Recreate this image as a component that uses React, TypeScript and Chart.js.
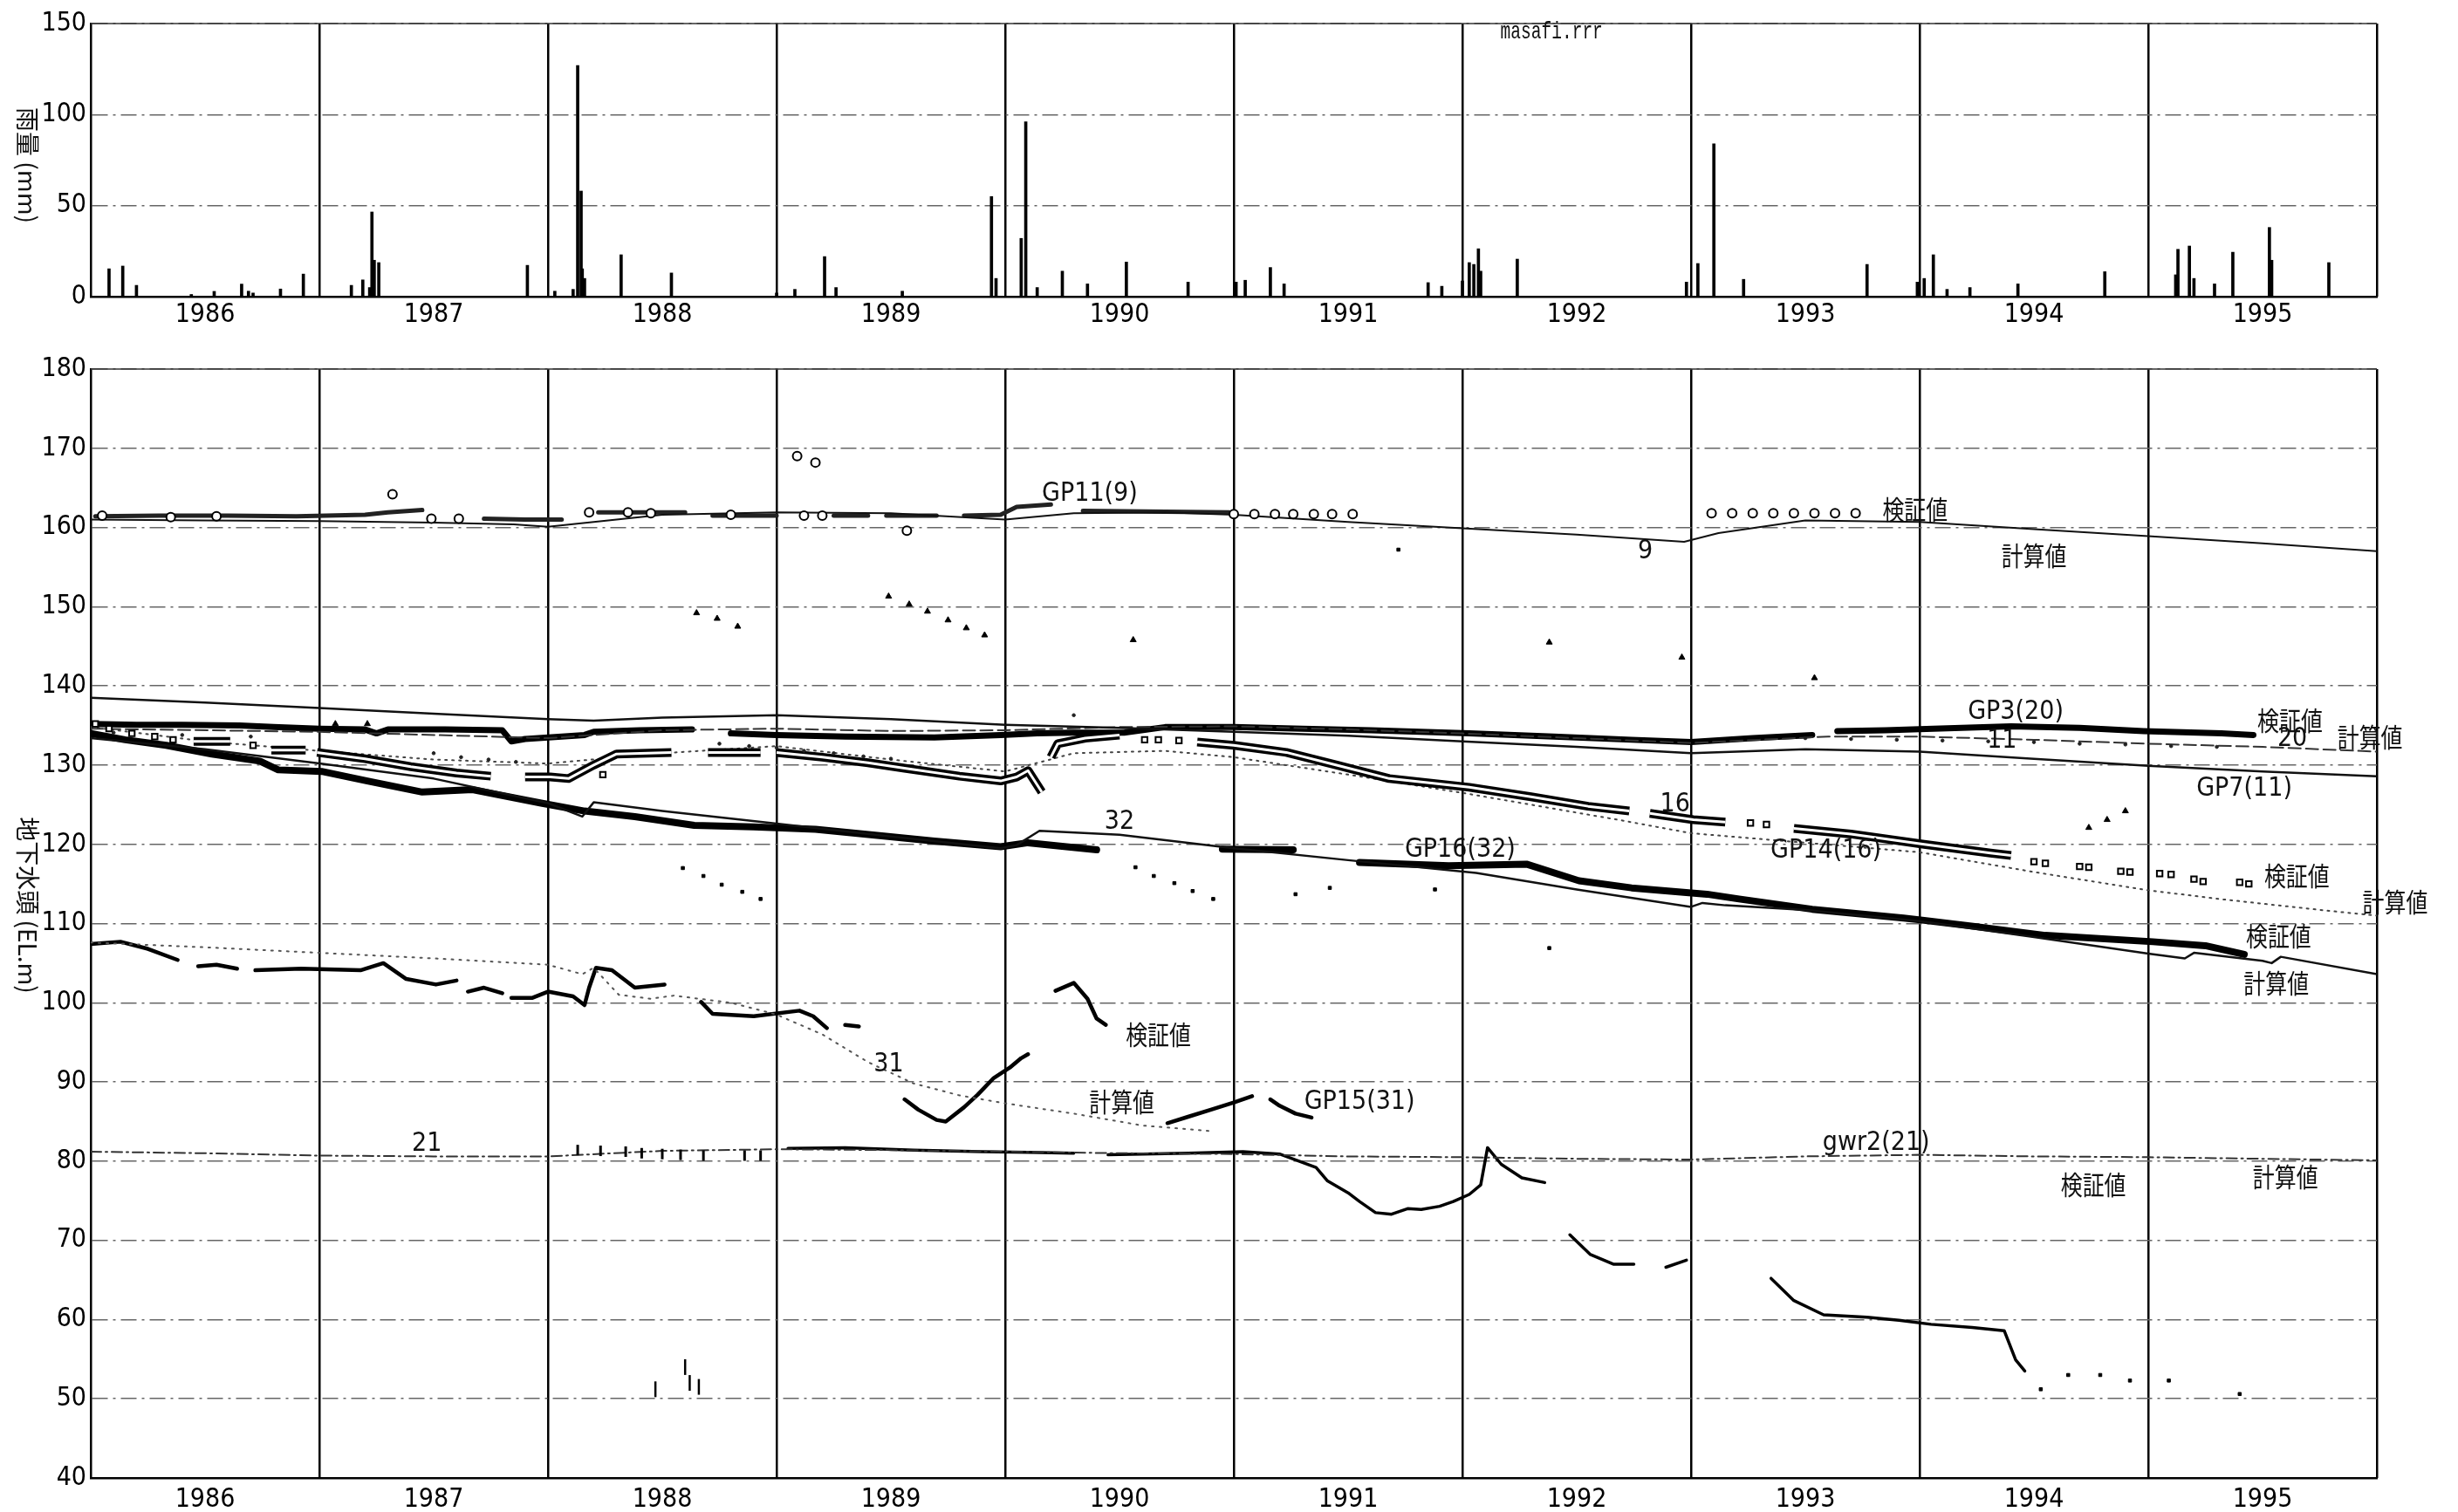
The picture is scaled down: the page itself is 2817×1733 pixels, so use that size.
import React, { useEffect, useRef } from "react";
import { Chart, registerables } from "chart.js";

Chart.register(...registerables);

type P = [number, number] | null;

// ---------- categories / ticks ----------
const yearCategories = [1986, 1987, 1988, 1989, 1990, 1991, 1992, 1993, 1994, 1995];
const yearBoundaries = [1987, 1988, 1989, 1990, 1991, 1992, 1993, 1994, 1995, 1996];
const rainTicks = [0, 50, 100, 150];
const headTicks = [40, 50, 60, 70, 80, 90, 100, 110, 120, 130, 140, 150, 160, 170, 180];

// ---------- rainfall (year, mm) ----------
const rainfall: [number, number][] = [
  [1986.08, 15.3], [1986.14, 16.8], [1986.2, 6.2], [1986.44, 1.2], [1986.54, 2.9], [1986.66, 6.9],
  [1986.69, 3.0], [1986.71, 2.0], [1986.83, 4.2], [1986.93, 12.4],
  [1987.14, 6.2], [1987.19, 9.2], [1987.22, 5.0], [1987.23, 46.5], [1987.24, 20.0], [1987.26, 18.7],
  [1987.91, 17.2],
  [1988.03, 3.0], [1988.11, 4.0], [1988.13, 127.0], [1988.145, 58.0], [1988.15, 15.3], [1988.16, 10.0],
  [1988.32, 23.0], [1988.54, 13.0],
  [1989.0, 2.0], [1989.08, 4.0], [1989.21, 22.0], [1989.26, 5.0], [1989.55, 3.0], [1989.94, 55.0],
  [1989.96, 10.0],
  [1990.07, 32.0], [1990.09, 96.0], [1990.14, 5.0], [1990.25, 14.0], [1990.36, 7.0], [1990.53, 19.0],
  [1990.8, 8.0],
  [1991.01, 8.0], [1991.05, 9.0], [1991.16, 16.0], [1991.22, 7.0], [1991.85, 7.7], [1991.91, 5.7],
  [1992.0, 8.6], [1992.03, 18.7], [1992.05, 17.7], [1992.07, 26.3], [1992.08, 14.0], [1992.24, 20.6],
  [1992.98, 8.0],
  [1993.03, 18.2], [1993.1, 84.0], [1993.23, 9.5], [1993.77, 17.7], [1993.99, 8.0],
  [1994.02, 10.0], [1994.06, 23.0], [1994.12, 4.0], [1994.22, 5.0], [1994.43, 7.0], [1994.81, 13.7],
  [1995.12, 12.0], [1995.13, 26.0], [1995.18, 27.8], [1995.2, 10.0], [1995.29, 7.0], [1995.37, 24.4],
  [1995.53, 38.0], [1995.54, 20.0], [1995.79, 18.7],
];

// ---------- groundwater heads (year, EL.m); null = gap ----------
const gp11Computed: P[] = [
  [1986.0, 161.0], [1986.5, 160.9], [1987.0, 160.8], [1987.5, 160.6], [1987.85, 160.4], [1988.0, 160.1],
  [1988.1, 160.4], [1988.5, 161.6], [1989.0, 161.9], [1989.5, 161.8], [1990.0, 161.0], [1990.3, 161.8],
  [1990.7, 161.9], [1991.0, 161.6], [1991.5, 160.7], [1992.0, 159.9], [1992.5, 159.1], [1992.97, 158.2],
  [1993.12, 159.3], [1993.5, 160.9], [1994.0, 160.7], [1994.5, 159.8], [1995.0, 158.9], [1995.5, 158.0],
  [1996.0, 157.0],
];
const gp11Band: P[] = [
  [1986.02, 161.4], [1986.3, 161.5], [1986.6, 161.5], [1986.9, 161.4], [1987.2, 161.6], [1987.3, 161.9],
  [1987.45, 162.2], null,
  [1987.72, 161.1], [1987.9, 161.0], [1988.06, 161.0], null,
  [1988.22, 161.9], [1988.6, 161.9], null,
  [1988.72, 161.5], [1989.0, 161.5], null,
  [1989.25, 161.5], [1989.4, 161.5], null,
  [1989.48, 161.5], [1989.7, 161.5], null,
  [1989.82, 161.5], [1989.98, 161.6], [1990.05, 162.6], [1990.2, 162.9], null,
  [1990.34, 162.1], [1990.7, 162.0], [1990.98, 161.9],
];
const gp11Circles: P[] = [
  [1986.05, 161.5], [1986.35, 161.3], [1986.55, 161.4], [1987.32, 164.2], [1987.49, 161.1], [1987.61, 161.1],
  [1988.18, 161.9], [1988.35, 161.9], [1988.45, 161.8], [1988.8, 161.6], [1989.09, 169.0], [1989.17, 168.2],
  [1989.12, 161.5], [1989.2, 161.5], [1989.57, 159.6],
  [1991.0, 161.7], [1991.09, 161.7], [1991.18, 161.7], [1991.26, 161.7], [1991.35, 161.7], [1991.43, 161.7],
  [1991.52, 161.7],
  [1993.09, 161.8], [1993.18, 161.8], [1993.27, 161.8], [1993.36, 161.8], [1993.45, 161.8], [1993.54, 161.8],
  [1993.63, 161.8], [1993.72, 161.8],
];

const gp7Computed: P[] = [
  [1986.0, 138.5], [1986.5, 137.9], [1987.0, 137.2], [1987.5, 136.5], [1988.0, 135.8], [1988.2, 135.6],
  [1988.5, 136.0], [1989.0, 136.3], [1989.5, 135.8], [1990.0, 135.1], [1990.5, 134.7], [1991.0, 134.2],
  [1991.5, 133.7], [1992.0, 133.0], [1992.5, 132.3], [1993.0, 131.5], [1993.2, 131.7], [1993.5, 132.0],
  [1994.0, 131.7], [1994.5, 130.8], [1995.0, 129.9], [1995.5, 129.2], [1996.0, 128.6],
];
const gp7Observed: P[] = [
  [1986.1, 134.1], [1986.4, 133.8], [1986.7, 133.6], [1987.5, 131.5], [1987.62, 131.0], [1987.74, 130.7],
  [1987.86, 130.4], [1988.75, 132.7], [1988.88, 132.4], [1989.0, 132.2], [1989.12, 131.8], [1989.25, 131.5],
  [1989.38, 131.1], [1989.5, 130.8], [1990.3, 136.3], [1993.5, 133.4], [1993.7, 133.3], [1993.9, 133.2],
  [1994.1, 133.1], [1994.3, 133.0], [1994.5, 132.9], [1994.7, 132.7], [1994.9, 132.6], [1995.1, 132.4],
  [1995.3, 132.3],
];

const gp3Computed: P[] = [
  [1986.0, 134.6], [1987.0, 134.2], [1988.0, 133.4], [1988.5, 134.4], [1989.0, 134.6], [1989.5, 134.3],
  [1990.0, 134.4], [1990.5, 134.8], [1991.0, 134.9], [1991.5, 134.5], [1992.0, 134.0], [1992.5, 133.4],
  [1993.0, 132.8], [1993.3, 133.2], [1993.6, 133.6], [1994.0, 133.6], [1994.5, 133.2], [1995.0, 132.7],
  [1995.5, 132.3], [1996.0, 131.7],
];
const gp3Observed: P[] = [
  [1986.0, 135.2], [1986.2, 135.1], [1986.4, 135.1], [1986.65, 135.0], [1986.8, 134.8], [1987.0, 134.6],
  [1987.2, 134.5], [1987.25, 134.0], [1987.3, 134.5], [1987.55, 134.5], [1987.8, 134.4], [1987.84, 133.0],
  [1987.9, 133.3], [1988.06, 133.6], [1988.16, 133.8], [1988.2, 134.2], [1988.4, 134.4], [1988.63, 134.5], null,
  [1988.8, 134.0], [1989.0, 133.8], [1989.3, 133.6], [1989.69, 133.5], [1989.98, 133.8], [1990.14, 134.0],
  [1990.3, 134.1], [1990.52, 134.1], [1990.7, 134.8], [1991.0, 134.8], [1991.3, 134.6], [1991.6, 134.4],
  [1992.03, 134.0], [1992.4, 133.6], [1992.74, 133.2], [1993.0, 132.9], [1993.27, 133.4], [1993.53, 133.8], null,
  [1993.64, 134.3], [1993.85, 134.4], [1994.06, 134.6], [1994.4, 134.9], [1994.7, 134.7], [1994.98, 134.3],
  [1995.32, 134.0], [1995.46, 133.8],
];

const gp14Computed: P[] = [
  [1986.0, 134.8], [1986.5, 133.0], [1987.0, 131.8], [1987.5, 130.7], [1988.0, 130.2], [1988.5, 131.5],
  [1989.0, 132.4], [1989.5, 130.7], [1990.0, 129.2], [1990.3, 131.5], [1990.7, 131.8], [1991.0, 131.0],
  [1991.5, 128.8], [1992.0, 126.5], [1992.3, 125.0], [1992.7, 123.0], [1993.0, 121.4], [1993.5, 120.2],
  [1994.0, 119.0], [1994.5, 116.5], [1995.0, 114.2], [1995.31, 113.1], [1995.79, 111.6], [1996.0, 111.0],
];
const gp14Band: P[] = [
  [1986.45, 133.0], [1986.61, 133.0], null,
  [1986.79, 131.9], [1986.94, 131.9], null,
  [1986.99, 131.6], [1987.2, 130.8], [1987.4, 129.8], [1987.6, 129.0], [1987.75, 128.6], null,
  [1987.9, 128.5], [1988.01, 128.5], [1988.09, 128.3], [1988.2, 130.0], [1988.3, 131.4], [1988.54, 131.6], null,
  [1988.7, 131.6], [1988.93, 131.6], null,
  [1989.0, 131.6], [1989.2, 131.0], [1989.4, 130.3], [1989.56, 129.6], [1989.8, 128.6], [1989.98, 128.0],
  [1990.05, 128.5], [1990.1, 129.3], [1990.16, 126.6], null,
  [1990.2, 131.0], [1990.23, 132.7], [1990.35, 133.4], [1990.5, 133.8], null,
  [1990.84, 132.9], [1991.0, 132.5], [1991.23, 131.6], [1991.45, 130.0], [1991.68, 128.3], [1992.03, 127.2],
  [1992.3, 126.0], [1992.55, 124.8], [1992.73, 124.2], null,
  [1992.82, 123.9], [1993.01, 123.1], [1993.15, 122.8], null,
  [1993.45, 122.0], [1993.7, 121.3], [1994.02, 120.0], [1994.31, 118.9], [1994.4, 118.6],
];
const gp14Circles: P[] = [
  [1986.02, 135.2], [1986.08, 134.6], [1986.18, 134.0], [1986.28, 133.6], [1986.36, 133.2], [1986.71, 132.5],
  [1988.24, 128.8], [1990.61, 133.2], [1990.67, 133.2], [1990.76, 133.1], [1993.26, 122.7], [1993.33, 122.5],
  [1994.5, 117.8], [1994.55, 117.6], [1994.7, 117.2], [1994.74, 117.1], [1994.88, 116.6], [1994.92, 116.5],
  [1995.05, 116.3], [1995.1, 116.2], [1995.2, 115.6], [1995.24, 115.3], [1995.4, 115.2], [1995.44, 115.0],
];

const gp16Computed: P[] = [
  [1986.0, 133.4], [1986.5, 132.0], [1987.0, 130.2], [1987.5, 128.3], [1988.0, 125.2], [1988.15, 123.5],
  [1988.2, 125.3], [1988.5, 124.2], [1989.0, 122.6], [1989.5, 121.0], [1989.98, 119.5], [1990.05, 119.9],
  [1990.15, 121.7], [1990.5, 121.2], [1991.0, 119.5], [1991.5, 118.0], [1992.06, 116.4], [1992.5, 114.3],
  [1993.0, 112.1], [1993.05, 112.6], [1993.15, 112.3], [1993.5, 111.7], [1994.0, 110.3], [1994.5, 108.3],
  [1995.0, 106.2], [1995.16, 105.6], [1995.2, 106.3], [1995.5, 105.3], [1995.54, 105.0], [1995.58, 105.8],
  [1996.0, 103.6],
];
const gp16Observed: P[] = [
  [1986.0, 134.0], [1986.15, 133.2], [1986.33, 132.5], [1986.53, 131.4], [1986.74, 130.5], [1986.82, 129.4],
  [1987.01, 129.2], [1987.21, 128.0], [1987.45, 126.6], [1987.67, 126.9], [1987.97, 125.2], [1988.16, 124.2],
  [1988.38, 123.5], [1988.64, 122.4], [1988.9, 122.2], [1989.17, 121.9], [1989.45, 121.1], [1989.69, 120.4],
  [1989.98, 119.7], [1990.1, 120.2], [1990.23, 119.8], [1990.4, 119.3], null,
  [1990.95, 119.4], [1991.26, 119.3], null,
  [1991.55, 117.7], [1991.94, 117.3], [1992.28, 117.5], [1992.51, 115.4], [1992.74, 114.5], [1993.07, 113.7],
  [1993.21, 113.1], [1993.53, 111.8], [1993.93, 110.7], [1994.02, 110.4], [1994.25, 109.6], [1994.55, 108.5],
  [1995.02, 107.7], [1995.25, 107.2], [1995.42, 106.1],
];

const gp15Computed: P[] = [
  [1986.0, 107.6], [1986.5, 107.0], [1987.0, 106.3], [1987.5, 105.6], [1988.0, 104.8], [1988.15, 103.6],
  [1988.2, 104.4], [1988.31, 101.0], [1988.45, 100.5], [1988.55, 100.9], [1988.8, 100.0], [1989.0, 98.5],
  [1989.2, 96.0], [1989.4, 92.5], [1989.6, 89.8], [1989.8, 88.3], [1990.0, 87.3], [1990.3, 86.0],
  [1990.6, 84.5], [1990.9, 83.8],
];
const gp15Observed: P[] = [
  [1986.0, 107.4], [1986.13, 107.7], [1986.25, 106.8], [1986.38, 105.4], null,
  [1986.47, 104.6], [1986.55, 104.8], [1986.64, 104.3], null,
  [1986.72, 104.1], [1986.92, 104.3], [1987.18, 104.1], [1987.28, 105.0], [1987.38, 103.0], [1987.51, 102.3],
  [1987.6, 102.8], null,
  [1987.65, 101.4], [1987.72, 101.9], [1987.8, 101.2], null,
  [1987.84, 100.6], [1987.93, 100.6], [1988.0, 101.4], [1988.11, 100.8], [1988.16, 99.7], [1988.18, 101.9],
  [1988.21, 104.4], [1988.28, 104.1], [1988.38, 101.9], [1988.51, 102.3], null,
  [1988.67, 100.1], [1988.72, 98.6], [1988.9, 98.3], [1989.1, 99.0], [1989.16, 98.3], [1989.22, 96.8], null,
  [1989.3, 97.2], [1989.36, 97.0], null,
  [1989.56, 87.8], [1989.62, 86.5], [1989.7, 85.2], [1989.74, 85.0], [1989.82, 86.8], [1989.88, 88.4],
  [1989.95, 90.5], [1990.02, 91.8], [1990.07, 93.0], [1990.1, 93.5], null,
  [1990.22, 101.5], [1990.3, 102.5], [1990.36, 100.5], [1990.4, 98.0], [1990.44, 97.2], null,
  [1990.71, 84.8], [1990.8, 85.6], [1990.9, 86.5], [1991.0, 87.4], [1991.08, 88.2], null,
  [1991.16, 87.8], [1991.2, 87.0], [1991.27, 86.0], [1991.34, 85.5],
];

const gwr2Computed: P[] = [
  [1986.0, 81.2], [1986.5, 81.0], [1987.0, 80.7], [1987.5, 80.6], [1988.0, 80.6], [1988.5, 81.3],
  [1989.0, 81.5], [1989.5, 81.4], [1990.0, 81.2], [1990.5, 81.0], [1991.0, 80.9], [1991.5, 80.6],
  [1992.0, 80.5], [1992.5, 80.3], [1993.0, 80.2], [1993.5, 80.6], [1994.0, 80.8], [1994.5, 80.6],
  [1995.0, 80.5], [1995.5, 80.3], [1996.0, 80.1],
];
const gwr2Marks: P[] = [
  [1988.13, 81.4], [1988.23, 81.3], [1988.34, 81.2], [1988.41, 81.0], [1988.5, 80.9], [1988.58, 80.8],
  [1988.68, 80.7], [1988.86, 80.7], [1988.93, 80.7],
];
const gwr2Observed: P[] = [
  [1989.05, 81.6], [1989.3, 81.7], [1989.6, 81.4], [1989.9, 81.2], [1990.1, 81.1], [1990.3, 81.0], null,
  [1990.45, 80.8], [1990.8, 81.0], [1991.04, 81.2], [1991.2, 80.9], [1991.36, 79.2], [1991.41, 77.5],
  [1991.5, 76.0], [1991.55, 74.9], [1991.62, 73.5], [1991.69, 73.3], [1991.76, 74.0], [1991.82, 73.9],
  [1991.9, 74.3], [1991.96, 74.9], [1992.03, 75.8], [1992.08, 77.0], [1992.11, 81.7], [1992.17, 79.6],
  [1992.26, 77.9], [1992.36, 77.3], null,
  [1992.47, 70.7], [1992.56, 68.2], [1992.66, 67.0], [1992.75, 67.0], null,
  [1992.89, 66.6], [1992.98, 67.5], null,
  [1993.35, 65.2], [1993.45, 62.4], [1993.58, 60.6], [1993.77, 60.3], [1993.91, 59.9], [1994.05, 59.4],
  [1994.23, 59.0], [1994.37, 58.6], [1994.42, 54.9], [1994.46, 53.5],
];
const gwr2Dots: P[] = [
  [1994.53, 51.2], [1994.65, 53.0], [1994.79, 53.0], [1994.92, 52.3], [1995.09, 52.3], [1995.4, 50.6],
];
const lowTicks: P[] = [[1988.47, 51.2], [1988.6, 54.0], [1988.62, 52.0], [1988.66, 51.5]];

const triangles: P[] = [
  [1987.07, 135.2], [1987.21, 135.2], [1988.65, 149.2], [1988.74, 148.5], [1988.83, 147.5],
  [1989.49, 151.3], [1989.58, 150.3], [1989.66, 149.4], [1989.75, 148.3], [1989.83, 147.3], [1989.91, 146.4],
  [1990.56, 145.8], [1992.38, 145.5], [1992.96, 143.6], [1993.54, 141.0],
  [1994.74, 122.1], [1994.82, 123.1], [1994.9, 124.2],
];
const smallDots: P[] = [
  [1988.59, 117.0], [1988.68, 116.0], [1988.76, 114.9], [1988.85, 114.0], [1988.93, 113.1],
  [1990.57, 117.1], [1990.65, 116.0], [1990.74, 115.1], [1990.82, 114.1], [1990.91, 113.1],
  [1991.27, 113.7], [1991.42, 114.5], [1991.88, 114.3], [1992.38, 106.9], [1991.72, 157.2],
];

// ---------- text marks (anchored in data space) ----------
const headLabels = [
  { text: "GP11(9)", x: 1990.37, y: 164.2 },
  { text: "9", x: 1992.8, y: 157.0 },
  { text: "検証値", x: 1993.98, y: 162.3 },
  { text: "計算値", x: 1994.5, y: 156.5 },
  { text: "GP3(20)", x: 1994.42, y: 136.7 },
  { text: "検証値", x: 1995.62, y: 135.6 },
  { text: "20", x: 1995.63, y: 133.3 },
  { text: "計算値", x: 1995.97, y: 133.6 },
  { text: "11", x: 1994.36, y: 133.0 },
  { text: "GP7(11)", x: 1995.42, y: 127.0 },
  { text: "16", x: 1992.93, y: 125.0 },
  { text: "GP14(16)", x: 1993.59, y: 119.2 },
  { text: "検証値", x: 1995.65, y: 116.0 },
  { text: "計算値", x: 1996.08, y: 112.7 },
  { text: "32", x: 1990.5, y: 122.8 },
  { text: "GP16(32)", x: 1991.99, y: 119.3 },
  { text: "検証値", x: 1995.57, y: 108.5 },
  { text: "計算値", x: 1995.56, y: 102.5 },
  { text: "検証値", x: 1990.67, y: 96.0 },
  { text: "31", x: 1989.49, y: 92.2 },
  { text: "計算値", x: 1990.51, y: 87.5 },
  { text: "GP15(31)", x: 1991.55, y: 87.5 },
  { text: "21", x: 1987.47, y: 82.2 },
  { text: "gwr2(21)", x: 1993.81, y: 82.3 },
  { text: "検証値", x: 1994.76, y: 77.1 },
  { text: "計算値", x: 1995.6, y: 78.1 },
];
const rainLabels = [{ text: "masafi.rrr", x: 1992.39, y: 145.5 }];

// ---------- styling helpers ----------
const FONT_NUM = "'Liberation Sans Narrow', 'DejaVu Sans Condensed', 'Liberation Sans', sans-serif";
const FONT_CJK = "'Noto Sans CJK JP', 'Noto Sans CJK SC', sans-serif";
const FONT_MONO = "'Liberation Mono', 'DejaVu Sans Mono', monospace";

const toPts = (arr: P[]) => {
  const out: { x: number; y: number | null }[] = [];
  let lastX = 1986;
  for (const p of arr) {
    if (p) {
      out.push({ x: p[0], y: p[1] });
      lastX = p[0];
    } else out.push({ x: lastX, y: null });
  }
  return out;
};

const lineDs = (label: string, pts: P[], width: number, color: string, dash: number[], order: number, cap = "round") => ({
  label,
  data: toPts(pts),
  showLine: true,
  borderColor: color,
  backgroundColor: color,
  borderWidth: width,
  borderDash: dash,
  borderCapStyle: cap,
  borderJoinStyle: "round",
  pointRadius: 0,
  pointHoverRadius: 0,
  tension: 0,
  spanGaps: false,
  fill: false,
  order,
  xAxisID: "x",
  yAxisID: "y",
});

const dotDs = (label: string, pts: P[], style: string, radius: number, bg: string, border: string, bw: number, order: number, rotation = 0) => ({
  label,
  data: toPts(pts),
  showLine: false,
  pointStyle: style,
  pointRadius: radius,
  pointHoverRadius: radius,
  pointBackgroundColor: bg,
  pointBorderColor: border,
  pointBorderWidth: bw,
  pointRotation: rotation,
  order,
  xAxisID: "x",
  yAxisID: "y",
});

type Mark = { text: string; x: number; y: number };

const makeTextPlugin = (id: string, items: Mark[], title: string, titleX: number, titleDy: number, mono: boolean) => ({
  id,
  afterDatasetsDraw(chart: any) {
    const { ctx, scales, chartArea } = chart;
    const xs = scales.x;
    const ys = scales.y;
    ctx.save();
    // top frame line
    ctx.strokeStyle = "#333";
    ctx.lineWidth = 1.5;
    ctx.beginPath();
    ctx.moveTo(chartArea.left, chartArea.top);
    ctx.lineTo(chartArea.right, chartArea.top);
    ctx.stroke();

    ctx.fillStyle = "#111";
    ctx.textAlign = "center";
    ctx.textBaseline = "middle";
    for (const it of items) {
      const px = xs.getPixelForValue(it.x);
      const py = ys.getPixelForValue(it.y);
      const cjk = /[\u3040-\u9fff]/.test(it.text);
      ctx.save();
      ctx.translate(px, py);
      if (cjk) {
        ctx.scale(0.83, 1);
        ctx.font = `30px ${FONT_CJK}`;
      } else if (mono) {
        ctx.scale(0.85, 1.2);
        ctx.font = `23px ${FONT_MONO}`;
      } else {
        ctx.font = `30px ${FONT_NUM}`;
      }
      ctx.fillText(it.text, 0, 0);
      ctx.restore();
    }
    // vertical axis title, reading top to bottom
    ctx.save();
    ctx.translate(titleX, (chartArea.top + chartArea.bottom) / 2 + titleDy);
    ctx.rotate(Math.PI / 2);
    ctx.font = `28px ${FONT_CJK}`;
    ctx.fillText(title, 0, 0);
    ctx.restore();
    ctx.restore();
  },
});

const commonX = (labelPad: number, height: number) => ({
  x: {
    type: "linear",
    min: 1986,
    max: 1996,
    offset: false,
    afterBuildTicks: (s: any) => {
      s.ticks = yearCategories.map((v) => ({ value: v + 0.5 }));
    },
    afterFit: (s: any) => {
      s.height = height;
    },
    ticks: {
      autoSkip: false,
      maxRotation: 0,
      padding: labelPad,
      color: "#000",
      font: { family: FONT_NUM, size: 30 },
      callback: (v: any) => String(Math.floor(Number(v))),
    },
    grid: { display: false, drawTicks: false, offset: false },
    border: { display: true, color: "#000", width: 2.5 },
  },
  xg: {
    type: "linear",
    position: "bottom",
    min: 1986,
    max: 1996,
    offset: false,
    afterBuildTicks: (s: any) => {
      s.ticks = yearBoundaries.map((v) => ({ value: v }));
    },
    afterFit: (s: any) => {
      s.height = 0;
    },
    ticks: { display: false },
    grid: { color: "#000", lineWidth: 2.5, drawTicks: false, offset: false },
    border: { display: false },
  },
});

const commonY = (min: number, max: number, ticks: number[]) => ({
  type: "linear",
  min,
  max,
  afterBuildTicks: (s: any) => {
    s.ticks = ticks.map((v) => ({ value: v }));
  },
  afterFit: (s: any) => {
    s.width = 104;
  },
  ticks: { padding: 5, color: "#000", font: { family: FONT_NUM, size: 30 } },
  grid: { color: "#666", lineWidth: 1.5, drawTicks: false },
  border: { display: true, color: "#000", width: 2.5, dash: [18, 6, 3, 6] },
});

export default function App() {
  const rainRef = useRef<HTMLCanvasElement>(null);
  const headRef = useRef<HTMLCanvasElement>(null);

  useEffect(() => {
    document.body.style.margin = "0";
    const rainChart = new Chart(rainRef.current as HTMLCanvasElement, {
      type: "bar",
      data: {
        datasets: [
          {
            label: "雨量",
            data: rainfall.map(([x, y]) => ({ x, y })),
            backgroundColor: "#000",
            borderWidth: 0,
            barThickness: 3,
            xAxisID: "x",
            yAxisID: "y",
          } as any,
        ],
      },
      options: {
        responsive: false,
        animation: false,
        layout: { padding: { top: 27, right: 93, left: 0, bottom: 0 } },
        plugins: { legend: { display: false }, tooltip: { enabled: false } },
        scales: { ...commonX(3, 60), y: commonY(0, 150, rainTicks) } as any,
      },
      plugins: [makeTextPlugin("rainText", rainLabels, "雨量 (mm)", 32, 6, true)],
    });

    const headChart = new Chart(headRef.current as HTMLCanvasElement, {
      type: "scatter",
      data: {
        datasets: [
          dotDs("triangles", triangles, "triangle", 4, "#000", "#000", 1, 0),
          dotDs("dots", smallDots, "rect", 2.5, "#000", "#000", 1, 0),
          dotDs("GP11 obs", gp11Circles, "circle", 5, "#fff", "#000", 2, 0),
          dotDs("GP14 obs pts", gp14Circles, "rect", 4.5, "#fff", "#000", 2, 0),
          dotDs("GP7 obs", gp7Observed, "circle", 1.8, "#222", "#222", 1, 0),
          dotDs("gwr2 marks", gwr2Marks, "line", 6, "#000", "#000", 3, 0, 90),
          dotDs("gwr2 dots", gwr2Dots, "rect", 2.5, "#000", "#000", 1, 0),
          dotDs("low ticks", lowTicks, "line", 9, "#000", "#000", 2.5, 0, 90),
          lineDs("GP14 obs inner", gp14Band, 3, "#fff", [], 1, "butt"),
          lineDs("GP14 obs", gp14Band, 10, "#000", [], 2, "butt"),
          lineDs("GP11 calc", gp11Computed, 2, "#111", [], 3),
          lineDs("GP7 calc", gp7Computed, 2.5, "#111", [], 3),
          lineDs("GP3 calc", gp3Computed, 2, "#333", [14, 6], 3),
          lineDs("GP14 calc", gp14Computed, 2, "#444", [2, 6], 3),
          lineDs("GP16 calc", gp16Computed, 2.5, "#111", [], 3),
          lineDs("GP15 calc", gp15Computed, 2, "#555", [2, 7], 3),
          lineDs("gwr2 calc", gwr2Computed, 2, "#333", [12, 5, 2, 5], 3),
          lineDs("GP11 band", gp11Band, 5, "#222", [], 4),
          lineDs("GP3 obs", gp3Observed, 7, "#000", [], 4),
          lineDs("GP16 obs", gp16Observed, 8, "#000", [], 4),
          lineDs("GP15 obs", gp15Observed, 4.5, "#000", [], 4),
          lineDs("gwr2 obs", gwr2Observed, 3.5, "#000", [], 4),
        ] as any,
      },
      options: {
        responsive: false,
        animation: false,
        layout: { padding: { top: 19, right: 93, left: 0, bottom: 0 } },
        plugins: { legend: { display: false }, tooltip: { enabled: false } },
        scales: { ...commonX(7, 39), y: commonY(40, 180, headTicks) } as any,
      },
      plugins: [makeTextPlugin("headText", headLabels, "地下水頭 (EL.m)", 32, -21, false)],
    });

    return () => {
      rainChart.destroy();
      headChart.destroy();
    };
  }, []);

  return (
    <div style={{ position: "absolute", left: 0, top: 0, width: 2817, height: 1733, background: "#fff", overflow: "hidden" }}>
      <canvas ref={rainRef} width={2817} height={400} style={{ position: "absolute", left: 0, top: 0 }} />
      <canvas ref={headRef} width={2817} height={1333} style={{ position: "absolute", left: 0, top: 400 }} />
    </div>
  );
}
